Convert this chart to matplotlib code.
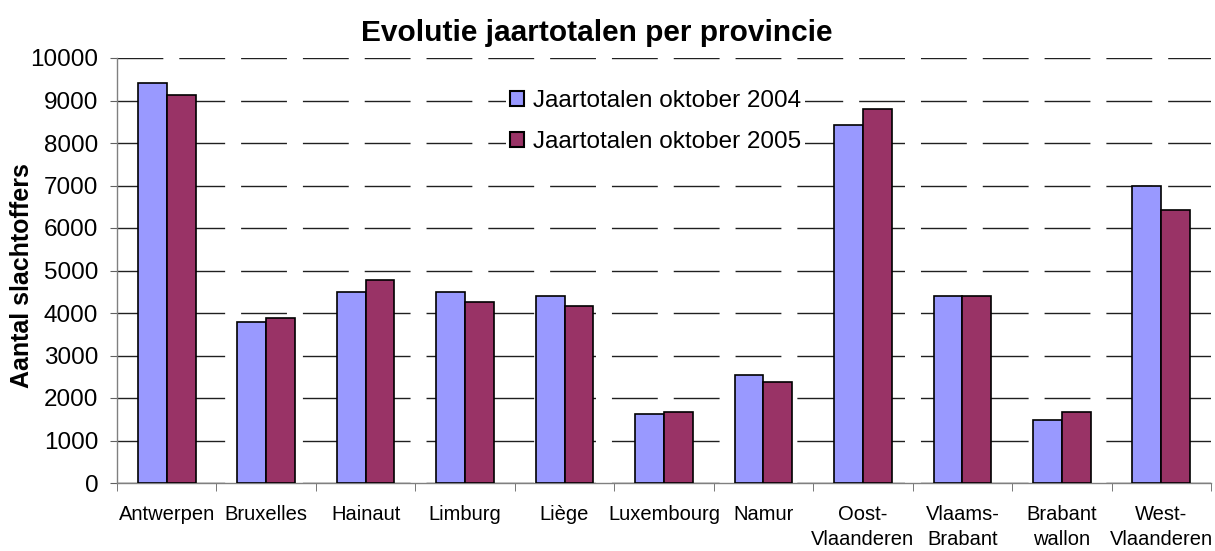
import numpy as np
import matplotlib
matplotlib.use('Agg')
import matplotlib.pyplot as plt

plt.rcParams['font.family'] = ['Liberation Sans', 'DejaVu Sans']

# data
provinces = ['Antwerpen', 'Bruxelles', 'Hainaut', 'Limburg', 'Liège', 'Luxembourg',
             'Namur', 'Oost-\nVlaanderen', 'Vlaams-\nBrabant', 'Brabant\nwallon',
             'West-\nVlaanderen']
totals_2004 = [9400, 3800, 4490, 4490, 4400, 1620, 2545, 8420, 4400, 1485, 6990]
totals_2005 = [9120, 3890, 4775, 4260, 4170, 1665, 2365, 8795, 4400, 1665, 6430]
series_names = ['Jaartotalen oktober 2004', 'Jaartotalen oktober 2005']
yticks = [0, 1000, 2000, 3000, 4000, 5000, 6000, 7000, 8000, 9000, 10000]

W, H = 1215, 551
fig = plt.figure(figsize=(W / 100, H / 100), dpi=100)
ax = fig.add_axes([117 / W, (H - 483) / H, 1094 / W, 425 / H])

x = np.arange(len(provinces))
bw = 0.29
ax.bar(x - bw / 2, totals_2004, bw, color='#9999FF', edgecolor='black',
       linewidth=1.2, label=series_names[0], zorder=3)
ax.bar(x + bw / 2, totals_2005, bw, color='#993366', edgecolor='black',
       linewidth=1.2, label=series_names[1], zorder=3)

ax.set_xlim(-0.5, len(provinces) - 0.5)
ax.set_ylim(0, 10000)
ax.set_yticks(yticks)
ax.tick_params(axis='y', labelsize=17.5, length=5, color='#606060', pad=8.5)

# category labels centered, ticks between categories
ax.set_xticks(x)
ax.set_xticklabels(provinces, fontsize=14.5, linespacing=1.4)
ax.tick_params(axis='x', which='major', length=0, pad=16)
ax.set_xticks(np.arange(-0.5, len(provinces)), minor=True)
ax.tick_params(axis='x', which='minor', length=6, color='#606060')

for s in ['top', 'right']:
    ax.spines[s].set_visible(False)
for s in ['left', 'bottom']:
    ax.spines[s].set_color('#808080')
    ax.spines[s].set_linewidth(1.0)

ax.yaxis.grid(True, color='#202020', linewidth=1.0, linestyle=(0, (33, 11.5)), zorder=0)
ax.set_axisbelow(True)

fig.text(22.5 / W, 1 - 275.5 / H, 'Aantal slachtoffers', rotation=90, ha='center',
         va='center', fontsize=18, fontweight='bold')
fig.text(0.491, 0.940, 'Evolutie jaartotalen per provincie', ha='center', va='center',
         fontsize=21.5, fontweight='bold')

leg = ax.legend(loc='upper left', bbox_to_anchor=(0.356, 0.934), fontsize=17.5,
                frameon=True, fancybox=False, edgecolor='none', facecolor='white',
                framealpha=1, handlelength=0.58, handleheight=0.58, handletextpad=0.37,
                labelspacing=0.8, borderpad=0.15, borderaxespad=0)
for h in leg.legend_handles:
    h.set_linewidth(1.5)

fig.savefig('out.png', dpi=100)
